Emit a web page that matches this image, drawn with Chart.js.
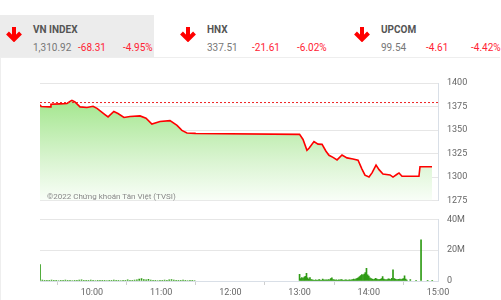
<!DOCTYPE html>
<html><head><meta charset="utf-8">
<script src="https://cdn.jsdelivr.net/npm/chart.js@4/dist/chart.umd.min.js"></script>
<style>
body{margin:0;width:501px;height:300px;position:relative;background:#fff;font-family:Roboto,"Noto Sans",sans-serif;overflow:hidden}
.hdrbox{position:absolute;left:0;top:15px;width:154px;height:42px;background:#ececec}
.t{position:absolute;font-size:10px;white-space:nowrap;line-height:12px}
.name{top:24px;font-weight:bold;color:#555}
.val{top:42px;color:#777}
.r{color:#f23}
.arrow{position:absolute;top:26px}
.panel{position:absolute;left:0;top:57px;width:500px;height:243px;border-left:1px solid #eee;border-top:1px solid #eee;box-sizing:border-box}
#pc{position:absolute;left:0;top:60px}
#vc{position:absolute;left:0;top:205px}
.copy{position:absolute;left:47px;top:191px;font-size:8px;line-height:11px;color:#888;white-space:nowrap}
</style>
</head><body>
<div class="hdrbox"></div>
<div class="panel"></div>
<div id="hdr"></div>
<canvas id="pc" width="501" height="155"></canvas>
<canvas id="vc" width="501" height="95"></canvas>
<div class="copy">©2022 Chứng khoán Tân Việt (TVSI)</div>
<script>
// Header data
const indexNames = ["VN INDEX", "HNX", "UPCOM"];
const indexValues = ["1,310.92", "337.51", "99.54"];
const indexChanges = ["-68.31", "-21.61", "-4.61"];
const indexPercents = ["-4.95%", "-6.02%", "-4.42%"];

// Price line (minutes after 9:00, index value)
const priceTimes = [15,16,23.7,24.5,32,38.4,41,42.7,45.3,49.7,55.7,61,64.4,71.3,74,79,82.6,87.8,93,101.7,106.9,112,119,127.7,133.8,138,142.4,149.4,150,
  240,243,246.4,248.2,252.5,256,259.5,262.9,265.5,269,272.5,276.8,281.1,286.3,290.7,294.1,296.7,300.2,302.8,306.3,308.9,312.3,318.4,321,324.5,326.2,328.8,343.5,344.4,354.8];
const priceValues = [1377,1375,1374.6,1377.4,1377.8,1378.2,1380.5,1381.6,1380,1374.6,1374,1375.3,1373,1366.5,1364,1369.7,1367.6,1363.4,1364.4,1365,1362.6,1356.3,1359,1360,1355,1349.6,1346.8,1346.5,1346.3,
  1345.4,1340,1328.5,1330.6,1337.7,1335,1334.8,1327.5,1323.2,1321,1318.3,1323.5,1320.4,1319.3,1318,1308.5,1302,1300,1304.5,1312.7,1307.9,1303.3,1302.3,1300,1303,1304.4,1300.9,1300.9,1311,1311];
const refPrice = 1379.23;

// Volume (millions)
const volOpenTime = 15;
const volOpenValue = 10.6;
const volMorningStart = 17; // every 2 minutes
const volMorning = [0.6,0.5,0.4,0.5,0.6,0.4,0.5,0.3,0.5,0.4,0.6,0.5,0.4,0.3,0.5,0.4,0.6,0.8,0.5,0.4,0.5,0.6,0.4,0.3,0.5,0.4,0.5,0.4,0.3,0.5,0.4,0.6,0.5,0.4,0.3,0.5,0.4,0.7,0.5,0.4,0.6,0.8,1.2,1.5,1.0,0.8,1.1,0.6,0.5,0.4,0.3,0.5,0.4,0.6,0.5,0.7,0.9,0.6,0.5,0.4,0.5,0.6,0.4,0.3,0.4,0.5,0.3];
const volAfternoonStart = 240; // every minute
const volAfternoon = [4.3,1.5,2.2,1.8,2.5,3.0,5.0,2.0,1.2,2.3,1.0,0.8,0.6,0.5,0.7,0.5,0.6,0.9,0.6,0.5,1.2,0.7,0.6,0.8,0.6,1.0,0.8,1.5,2.0,0.9,0.7,0.6,0.8,0.5,0.7,0.6,0.9,0.7,0.5,0.6,0.8,0.6,0.5,0.7,0.6,0.8,1.0,1.2,0.9,1.4,1.8,2.2,2.8,3.5,4.2,3.8,4.5,5.5,8.3,4.0,3.2,2.0,1.5,1.2,1.0,1.3,1.8,1.2,1.0,0.9,1.1,1.5,2.9,1.2,1.0,0.8,1.0,1.4,1.2,1.0,1.8,7.3,1.5,1.2,1.0,0.9,1.1,1.3,1.0,1.2,1.5,3.3,1.2,0.6];
const volCloseTimes = [336,341,345.3,351,355];
const volCloseValues = [1.0,0.5,26.7,0.5,0.5];

// Axis ticks
const tickTimes = [60,120,180,240,300,360];
const tickLabels = ["10:00","11:00","12:00","13:00","14:00","15:00"];

// Header
const hdr = document.getElementById('hdr');
const blockLeft = [33, 207, 381];
const arrowLeft = [5, 179, 353];
const arrowSvg = '<svg width="18" height="16" viewBox="0 0 18 16"><path d="M9 1 V13 M2.5 7 L9 13.5 L15.5 7" fill="none" stroke="#ff0000" stroke-width="4" stroke-linejoin="miter"/></svg>';
indexNames.forEach((n,i)=>{
  const L = blockLeft[i];
  hdr.insertAdjacentHTML('beforeend',
    `<div class="arrow" style="left:${arrowLeft[i]}px">${arrowSvg}</div>`+
    `<div class="t name" style="left:${L}px">${n}</div>`+
    `<div class="t val" style="left:${L}px">${indexValues[i]}</div>`+
    `<div class="t val r" style="left:${L+45}px">${indexChanges[i]}</div>`+
    `<div class="t val r" style="left:${L+90}px">${indexPercents[i]}</div>`);
});

const pricePoints = priceTimes.map((t,i)=>({x:t,y:priceValues[i]}));
const volPoints = [{x:volOpenTime,y:volOpenValue}]
  .concat(volMorning.map((v,i)=>({x:volMorningStart+2*i,y:v})))
  .concat(volAfternoon.map((v,i)=>({x:volAfternoonStart+i,y:v})))
  .concat(volCloseTimes.map((t,i)=>({x:t,y:volCloseValues[i]})));

const tickFont = {family:'Roboto, "Noto Sans", sans-serif', size:9};
const gridColor = '#e6e6e6';
const borderColor = '#d9dfe7';

new Chart(document.getElementById('pc'), {
  type:'line',
  data:{datasets:[
    {data:pricePoints, order:1, borderColor:'#ff0000', borderWidth:1.6, pointRadius:0, tension:0, fill:'start',
     backgroundColor:(c)=>{
       const a=c.chart.chartArea; if(!a) return 'rgba(160,229,138,0.8)';
       const g=c.chart.ctx.createLinearGradient(0,a.top+15,0,a.bottom);
       g.addColorStop(0,'#a2e68c'); g.addColorStop(0.6,'#d9f4d0'); g.addColorStop(1,'#f9fef8');
       return g;
     }},
    {data:[{x:15,y:refPrice},{x:360,y:refPrice}], order:0, borderColor:'#ee2222', borderWidth:1, borderDash:[2,2], pointRadius:0, fill:false}
  ]},
  options:{responsive:false, animation:false,
    layout:{padding:{left:40,top:23,bottom:13,right:0}},
    plugins:{legend:{display:false},tooltip:{enabled:false}},
    scales:{
      x:{type:'linear',min:15,max:360,display:false},
      y:{position:'right',min:1275,max:1400,
         ticks:{stepSize:25,padding:9,color:'#666',font:tickFont,callback:(v)=>String(v)},
         grid:{color:gridColor,drawTicks:false},
         border:{display:true,color:borderColor},
         afterFit(a){a.width=63;}}
    }}
});

new Chart(document.getElementById('vc'), {
  type:'bar',
  data:{datasets:[{data:volPoints, backgroundColor:'#2f9b15', barThickness:1, borderWidth:0}]},
  options:{responsive:false, animation:false,
    layout:{padding:{left:40,top:7,bottom:0,right:0}},
    plugins:{legend:{display:false},tooltip:{enabled:false}},
    scales:{
      x:{type:'linear',min:15,max:360,offset:false,
         afterBuildTicks(a){a.ticks=tickTimes.map(v=>({value:v}));},
         ticks:{autoSkip:false,maxRotation:0,padding:2,color:'#666',font:tickFont,
           callback:(v)=>tickLabels[tickTimes.indexOf(v)]},
         grid:{drawOnChartArea:false,tickLength:4,color:'#cfcfcf'},
         border:{display:true,color:borderColor},
         afterFit(a){a.height=19;}},
      y:{position:'right',min:0,max:40,
         ticks:{stepSize:20,padding:9,color:'#666',font:tickFont,callback:(v)=>v===0?'0':v+'M'},
         grid:{color:gridColor,drawTicks:false},
         border:{display:true,color:borderColor},
         afterFit(a){a.width=63;}}
    }}
});
</script>
</body></html>
